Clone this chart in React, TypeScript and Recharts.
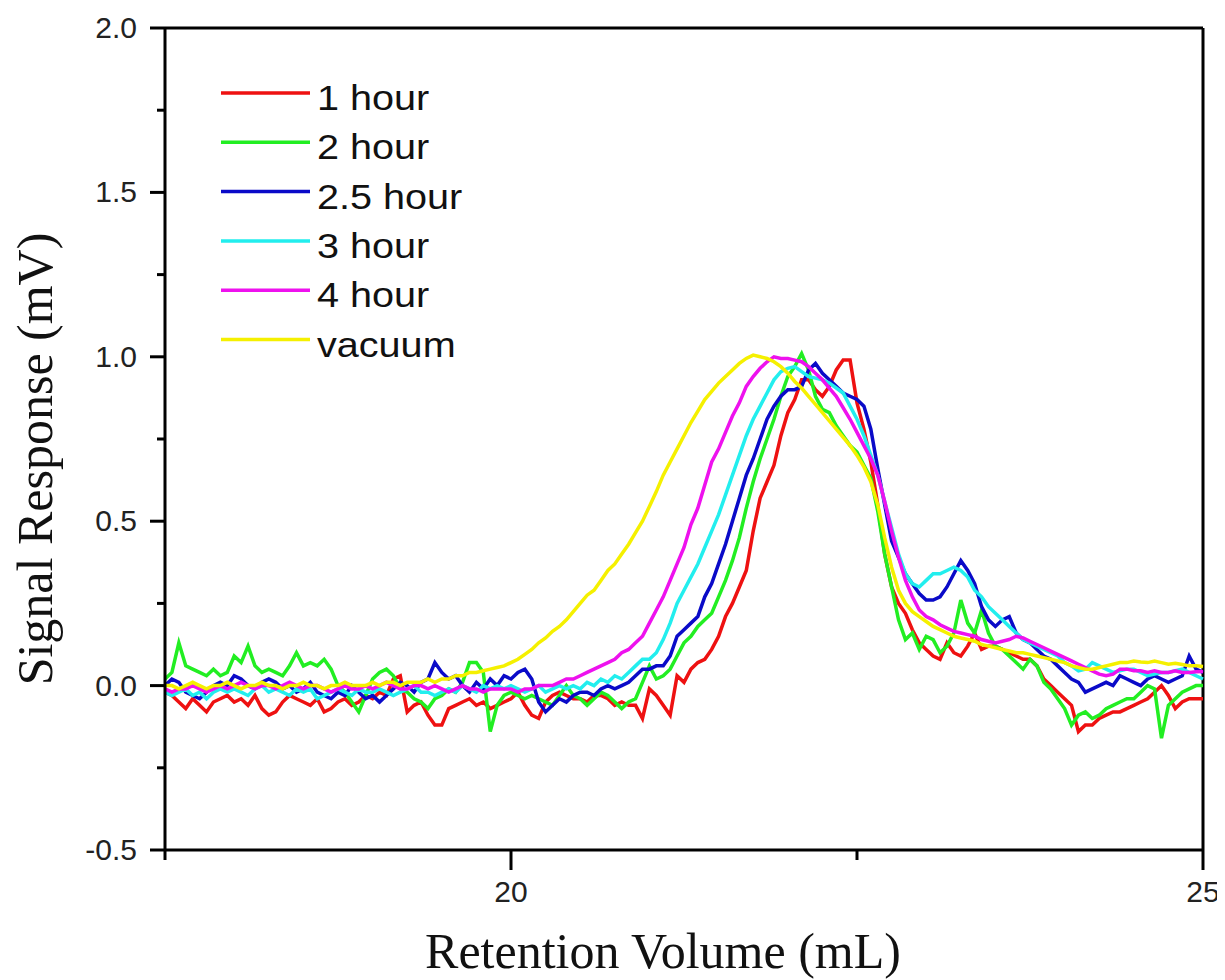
import React from 'react';
import { LineChart, Line, XAxis, YAxis, ReferenceLine } from 'recharts';

// Retention volume (mL), sampled every 0.05 mL
const VOLUME = [
  17.5, 17.55, 17.6, 17.65, 17.7, 17.75, 17.8, 17.85, 17.9, 17.95,
  18, 18.05, 18.1, 18.15, 18.2, 18.25, 18.3, 18.35, 18.4, 18.45,
  18.5, 18.55, 18.6, 18.65, 18.7, 18.75, 18.8, 18.85, 18.9, 18.95,
  19, 19.05, 19.1, 19.15, 19.2, 19.25, 19.3, 19.35, 19.4, 19.45,
  19.5, 19.55, 19.6, 19.65, 19.7, 19.75, 19.8, 19.85, 19.9, 19.95,
  20, 20.05, 20.1, 20.15, 20.2, 20.25, 20.3, 20.35, 20.4, 20.45,
  20.5, 20.55, 20.6, 20.65, 20.7, 20.75, 20.8, 20.85, 20.9, 20.95,
  21, 21.05, 21.1, 21.15, 21.2, 21.25, 21.3, 21.35, 21.4, 21.45,
  21.5, 21.55, 21.6, 21.65, 21.7, 21.75, 21.8, 21.85, 21.9, 21.95,
  22, 22.05, 22.1, 22.15, 22.2, 22.25, 22.3, 22.35, 22.4, 22.45,
  22.5, 22.55, 22.6, 22.65, 22.7, 22.75, 22.8, 22.85, 22.9, 22.95,
  23, 23.05, 23.1, 23.15, 23.2, 23.25, 23.3, 23.35, 23.4, 23.45,
  23.5, 23.55, 23.6, 23.65, 23.7, 23.75, 23.8, 23.85, 23.9, 23.95,
  24, 24.05, 24.1, 24.15, 24.2, 24.25, 24.3, 24.35, 24.4, 24.45,
  24.5, 24.55, 24.6, 24.65, 24.7, 24.75, 24.8, 24.85, 24.9, 24.95,
  25,
];

// Signal response (mV) per series
const HOUR_1 = [
  -0.02, -0.03, -0.05, -0.07, -0.04, -0.06, -0.08, -0.05, -0.04, -0.03,
  -0.05, -0.04, -0.06, -0.03, -0.07, -0.09, -0.08, -0.05, -0.03, -0.04,
  -0.05, -0.06, -0.04, -0.08, -0.07, -0.05, -0.04, -0.06, -0.05, -0.03,
  -0.04, -0.02, -0.03, 0.02, 0.03, -0.08, -0.06, -0.05, -0.09, -0.12,
  -0.12, -0.07, -0.06, -0.05, -0.04, -0.06, -0.05, -0.07, -0.06, -0.05,
  -0.04, -0.02, -0.06, -0.09, -0.1, -0.05, -0.03, -0.02, -0.03, -0.04,
  -0.04, -0.05, -0.03, -0.03, -0.04, -0.06, -0.05, -0.06, -0.06, -0.1,
  -0.01, -0.03, -0.06, -0.09, 0.03, 0.01, 0.05, 0.07, 0.08, 0.11,
  0.15, 0.21, 0.25, 0.3, 0.35, 0.47, 0.57, 0.62, 0.67, 0.76,
  0.83, 0.87, 0.93, 0.93, 0.9, 0.88, 0.91, 0.96, 0.99, 0.99,
  0.86, 0.78, 0.68, 0.55, 0.4, 0.3, 0.25, 0.22, 0.17, 0.13,
  0.11, 0.09, 0.08, 0.13, 0.1, 0.09, 0.12, 0.16, 0.11, 0.12,
  0.12, 0.11, 0.1, 0.09, 0.08, 0.08, 0.06, 0.02, 0.0, -0.02,
  -0.04, -0.06, -0.14, -0.12, -0.12, -0.1, -0.09, -0.08, -0.08, -0.07,
  -0.06, -0.05, -0.04, -0.02, 0.0, -0.03, -0.07, -0.05, -0.04, -0.04,
  -0.04,
];

const HOUR_2 = [
  0.02, 0.04, 0.13, 0.06, 0.05, 0.04, 0.03, 0.05, 0.03, 0.04,
  0.09, 0.07, 0.12, 0.06, 0.04, 0.05, 0.04, 0.03, 0.06, 0.1,
  0.06, 0.07, 0.06, 0.08, 0.05, 0.0, -0.02, -0.05, -0.08, -0.03,
  0.02, 0.04, 0.05, 0.03, -0.01, -0.02, -0.04, -0.05, -0.07, -0.04,
  -0.03, -0.01, -0.02, 0.01, 0.07, 0.07, 0.04, -0.14, -0.06, -0.03,
  -0.02, -0.03, -0.04, -0.03, -0.04, -0.05, -0.06, -0.03, 0.0, -0.03,
  -0.04, -0.06, -0.04, -0.02, -0.03, -0.05, -0.07, -0.05, -0.04, 0.01,
  0.06, 0.02, 0.03, 0.05, 0.09, 0.13, 0.15, 0.18, 0.2, 0.22,
  0.27, 0.32, 0.38, 0.45, 0.54, 0.62, 0.69, 0.75, 0.81, 0.88,
  0.94, 0.97, 1.01, 0.96, 0.88, 0.84, 0.83, 0.79, 0.76, 0.73,
  0.71, 0.67, 0.63, 0.53, 0.4, 0.3, 0.2, 0.14, 0.16, 0.11,
  0.15, 0.14, 0.1, 0.12, 0.16, 0.26, 0.19, 0.16, 0.23, 0.16,
  0.12, 0.11, 0.09, 0.07, 0.05, 0.08, 0.06, 0.01, -0.01, -0.04,
  -0.07, -0.12, -0.09, -0.08, -0.1, -0.09, -0.07, -0.06, -0.05, -0.04,
  -0.04, -0.02, 0.0, -0.01, -0.16, -0.06, -0.04, -0.02, -0.01, 0.0,
  0.0,
];

const HOUR_2_5 = [
  0.0, 0.02, 0.01, -0.02, -0.03, -0.04, -0.02, 0.0, 0.01, 0.0,
  0.03, 0.02, 0.0, -0.01, 0.01, 0.02, 0.01, -0.01, 0.0, -0.02,
  -0.01, 0.01, -0.02, -0.03, -0.04, -0.02, -0.03, 0.0, -0.02, -0.04,
  -0.03, -0.05, -0.03, -0.01, 0.01, 0.0, -0.02, 0.01, 0.02, 0.07,
  0.04, 0.02, 0.03, 0.0, -0.02, 0.01, -0.01, 0.02, 0.0, 0.03,
  0.02, 0.04, 0.05, 0.02, -0.05, -0.08, -0.06, -0.04, -0.05, -0.03,
  -0.02, -0.02, -0.03, -0.01, 0.0, -0.01, 0.0, 0.01, 0.03, 0.05,
  0.05, 0.06, 0.06, 0.09, 0.15, 0.17, 0.19, 0.21, 0.27, 0.31,
  0.37, 0.43, 0.5, 0.57, 0.64, 0.69, 0.75, 0.81, 0.85, 0.88,
  0.9, 0.9, 0.91, 0.96, 0.98, 0.95, 0.93, 0.91, 0.89, 0.88,
  0.87, 0.85, 0.78, 0.66, 0.55, 0.44, 0.39, 0.34, 0.31, 0.28,
  0.26, 0.26, 0.27, 0.3, 0.34, 0.38, 0.35, 0.31, 0.24, 0.2,
  0.18, 0.2, 0.21, 0.16, 0.14, 0.13, 0.11, 0.09, 0.08, 0.06,
  0.04, 0.02, 0.01, -0.02, -0.01, 0.0, 0.01, 0.0, 0.03, 0.02,
  0.01, 0.0, 0.02, 0.03, 0.02, 0.01, 0.02, 0.03, 0.09, 0.05,
  0.04,
];

const HOUR_3 = [
  -0.02, -0.03, -0.02, -0.01, -0.03, -0.02, -0.04, -0.02, -0.01, -0.02,
  -0.01, -0.02, -0.03, -0.01, 0.0, -0.02, -0.01, -0.02, -0.03, -0.01,
  -0.02, -0.01, -0.04, -0.03, -0.02, -0.01, -0.02, -0.03, -0.01, -0.02,
  -0.02, -0.01, -0.02, -0.03, -0.02, -0.01, 0.0, -0.02, -0.02, -0.03,
  -0.02, -0.01, -0.02, 0.0, -0.01, -0.02, 0.0, -0.01, 0.0, -0.01,
  0.0, -0.01, -0.02, -0.01, 0.0, -0.02, -0.01, 0.0, -0.01, 0.0,
  -0.01, 0.01, 0.0, 0.02, 0.01, 0.03, 0.02, 0.04, 0.06, 0.08,
  0.08, 0.1, 0.14, 0.19, 0.25, 0.29, 0.33, 0.37, 0.42, 0.47,
  0.52, 0.58, 0.64, 0.7, 0.76, 0.81, 0.85, 0.89, 0.93, 0.955,
  0.965, 0.97, 0.955, 0.94, 0.935, 0.93, 0.92, 0.905, 0.89, 0.85,
  0.81, 0.76, 0.7, 0.64, 0.56, 0.48, 0.4, 0.34, 0.31, 0.3,
  0.32, 0.34, 0.34, 0.35, 0.36, 0.35, 0.33, 0.29, 0.27, 0.24,
  0.22, 0.2, 0.18, 0.16, 0.14, 0.13, 0.12, 0.11, 0.1, 0.09,
  0.07, 0.06, 0.045, 0.05, 0.07, 0.06, 0.05, 0.04, 0.045, 0.05,
  0.05, 0.04, 0.03, 0.035, 0.04, 0.04, 0.045, 0.05, 0.04, 0.03,
  0.02,
];

const HOUR_4 = [
  -0.01, -0.02, -0.01, -0.01, 0.0, -0.01, -0.02, -0.01, 0.0, -0.01,
  0.0, 0.01, 0.0, -0.01, 0.0, 0.0, -0.01, 0.0, 0.01, 0.0,
  -0.01, 0.0, 0.0, -0.01, -0.02, -0.01, 0.0, -0.01, -0.01, 0.0,
  -0.01, 0.0, 0.01, 0.0, -0.01, -0.01, 0.0, 0.0, -0.01, 0.0,
  -0.01, -0.02, -0.01, 0.0, -0.01, -0.01, -0.02, -0.01, -0.01, -0.01,
  -0.01, -0.02, -0.01, -0.01, 0.0, 0.0, 0.0, 0.01, 0.02, 0.02,
  0.03, 0.04, 0.05, 0.06, 0.07, 0.08, 0.1, 0.11, 0.13, 0.15,
  0.19, 0.23, 0.27, 0.32, 0.37, 0.42, 0.49, 0.54, 0.61, 0.68,
  0.72, 0.77, 0.82, 0.86, 0.91, 0.94, 0.965, 0.985, 1.0, 0.995,
  0.995, 0.99, 0.985, 0.97, 0.95, 0.93, 0.905, 0.88, 0.845, 0.81,
  0.77, 0.73, 0.69, 0.64, 0.56, 0.47, 0.39, 0.32, 0.27, 0.23,
  0.21, 0.2, 0.185, 0.175, 0.165, 0.16, 0.155, 0.15, 0.14, 0.135,
  0.13, 0.135, 0.14, 0.15, 0.145, 0.135, 0.125, 0.115, 0.105, 0.095,
  0.085, 0.075, 0.065, 0.055, 0.045, 0.035, 0.03, 0.035, 0.05, 0.05,
  0.045, 0.045, 0.04, 0.045, 0.04, 0.04, 0.045, 0.04, 0.04, 0.042,
  0.043,
];

const VACUUM = [
  0.0, 0.0, -0.01, 0.0, 0.01, 0.0, -0.01, 0.0, 0.0, 0.01,
  0.0, -0.01, 0.0, 0.0, 0.01, 0.0, 0.0, -0.01, 0.0, 0.0,
  0.01, 0.0, 0.0, -0.01, 0.0, 0.0, 0.01, 0.0, 0.0, 0.0,
  0.01, 0.0, 0.01, 0.01, 0.0, 0.01, 0.01, 0.01, 0.02, 0.01,
  0.02, 0.02, 0.03, 0.03, 0.04, 0.04, 0.045, 0.05, 0.055, 0.06,
  0.07, 0.08, 0.095, 0.11, 0.13, 0.145, 0.165, 0.18, 0.2, 0.225,
  0.25, 0.275, 0.29, 0.32, 0.35, 0.37, 0.4, 0.43, 0.465, 0.5,
  0.545, 0.59, 0.64, 0.68, 0.72, 0.76, 0.8, 0.835, 0.87, 0.895,
  0.92, 0.94, 0.96, 0.98, 0.995, 1.005, 1.0, 0.995, 0.985, 0.97,
  0.95, 0.925, 0.905, 0.88, 0.855, 0.83, 0.805, 0.78, 0.755, 0.73,
  0.7, 0.665, 0.62, 0.55, 0.45, 0.36, 0.29, 0.25, 0.225, 0.21,
  0.195, 0.18, 0.17, 0.16, 0.15, 0.145, 0.14, 0.135, 0.125, 0.12,
  0.115, 0.11, 0.105, 0.1, 0.1, 0.095, 0.09, 0.085, 0.08, 0.075,
  0.07, 0.06, 0.055, 0.05, 0.05, 0.055, 0.06, 0.065, 0.07, 0.07,
  0.075, 0.072, 0.07, 0.075, 0.07, 0.065, 0.068, 0.064, 0.06, 0.06,
  0.058,
];

const SERIES_NAMES = ['1 hour', '2 hour', '2.5 hour', '3 hour', '4 hour', 'vacuum'];
const SERIES_COLORS = ['#ee1111', '#22ee22', '#0a0ac8', '#22eeee', '#ee11ee', '#f5f000'];
const SERIES_VALUES = [HOUR_1, HOUR_2, HOUR_2_5, HOUR_3, HOUR_4, VACUUM];

const X_TICKS = [17.5, 20, 22.5, 25];
const Y_TICKS = [-0.5, -0.25, 0, 0.25, 0.5, 0.75, 1, 1.25, 1.5, 1.75, 2];

const SERIES = SERIES_NAMES.map((name, i) => ({
  key: `s${i}`,
  name,
  color: SERIES_COLORS[i],
  values: SERIES_VALUES[i],
}));

const data = VOLUME.map((v, i) => {
  const row: Record<string, number> = { v };
  SERIES.forEach((s) => {
    row[s.key] = s.values[i];
  });
  return row;
});

const TICK_FONT = "'Liberation Sans', Arial, sans-serif";
const TITLE_FONT = "'Liberation Serif', 'Times New Roman', serif";

const XTick = (props: any) => {
  const { x, y, payload } = props;
  const v = payload.value as number;
  const major = Number.isInteger(v);
  return (
    <g>
      <line x1={x} y1={y} x2={x} y2={y + (major ? 20 : 10)} stroke="#000" strokeWidth={3} />
      {major && (
        <text x={x} y={y + 52} textAnchor="middle" fontSize={30} fontFamily={TICK_FONT} fill="#222">
          {v}
        </text>
      )}
    </g>
  );
};

const YTick = (props: any) => {
  const { x, y, payload } = props;
  const v = payload.value as number;
  const major = Math.abs(v * 2 - Math.round(v * 2)) < 1e-6;
  return (
    <g>
      <line x1={x} y1={y} x2={x - (major ? 15 : 8)} y2={y} stroke="#000" strokeWidth={3} />
      {major && (
        <text x={x - 28} y={y + 10} textAnchor="end" fontSize={30} fontFamily={TICK_FONT} fill="#222">
          {v.toFixed(1)}
        </text>
      )}
    </g>
  );
};

// In-plot legend: coloured stroke followed by the series name
const LegendBox = () => (
  <g>
    {SERIES.map((s, i) => (
      <g key={s.key}>
        <line x1={213} x2={302} y1={85 + i * 49.3} y2={85 + i * 49.3} stroke={s.color} strokeWidth={3.5} />
        <text
          transform={`translate(309, ${102 + i * 49.3}) scale(1.1, 1)`}
          x={0}
          y={0}
          fontSize={36}
          fontFamily={TICK_FONT}
          fill="#111"
        >
          {s.name}
        </text>
      </g>
    ))}
  </g>
);

export default function App() {
  return (
    <LineChart
      width={1217}
      height={972}
      data={data}
      margin={{ top: 20, right: 22, bottom: 0, left: 0 }}
    >
      <XAxis
        dataKey="v"
        type="number"
        domain={[17.5, 25]}
        ticks={X_TICKS}
        tick={<XTick />}
        tickSize={0}
        tickMargin={0}
        height={130}
        axisLine={{ stroke: '#000', strokeWidth: 3 }}
        tickLine={false}
        interval={0}
      />
      <YAxis
        type="number"
        domain={[-0.5, 2]}
        ticks={Y_TICKS}
        tick={<YTick />}
        tickSize={0}
        tickMargin={0}
        width={157}
        axisLine={{ stroke: '#000', strokeWidth: 3 }}
        tickLine={false}
        interval={0}
        allowDataOverflow
      />
      <ReferenceLine y={2} stroke="#000" strokeWidth={3} />
      <ReferenceLine x={25} stroke="#000" strokeWidth={3} />
      {SERIES.map((s) => (
        <Line
          key={s.key}
          dataKey={s.key}
          name={s.name}
          type="linear"
          stroke={s.color}
          strokeWidth={3.5}
          dot={false}
          activeDot={false}
          isAnimationActive={false}
        />
      ))}
      <LegendBox />
      <text
        x={655}
        y={960}
        textAnchor="middle"
        fontSize={50}
        fontFamily={TITLE_FONT}
        fill="#111"
      >
        Retention Volume (mL)
      </text>
      <text
        x={44}
        y={451}
        transform="rotate(-90, 44, 451)"
        textAnchor="middle"
        fontSize={50}
        fontFamily={TITLE_FONT}
        fill="#111"
      >
        Signal Response (mV)
      </text>
    </LineChart>
  );
}
